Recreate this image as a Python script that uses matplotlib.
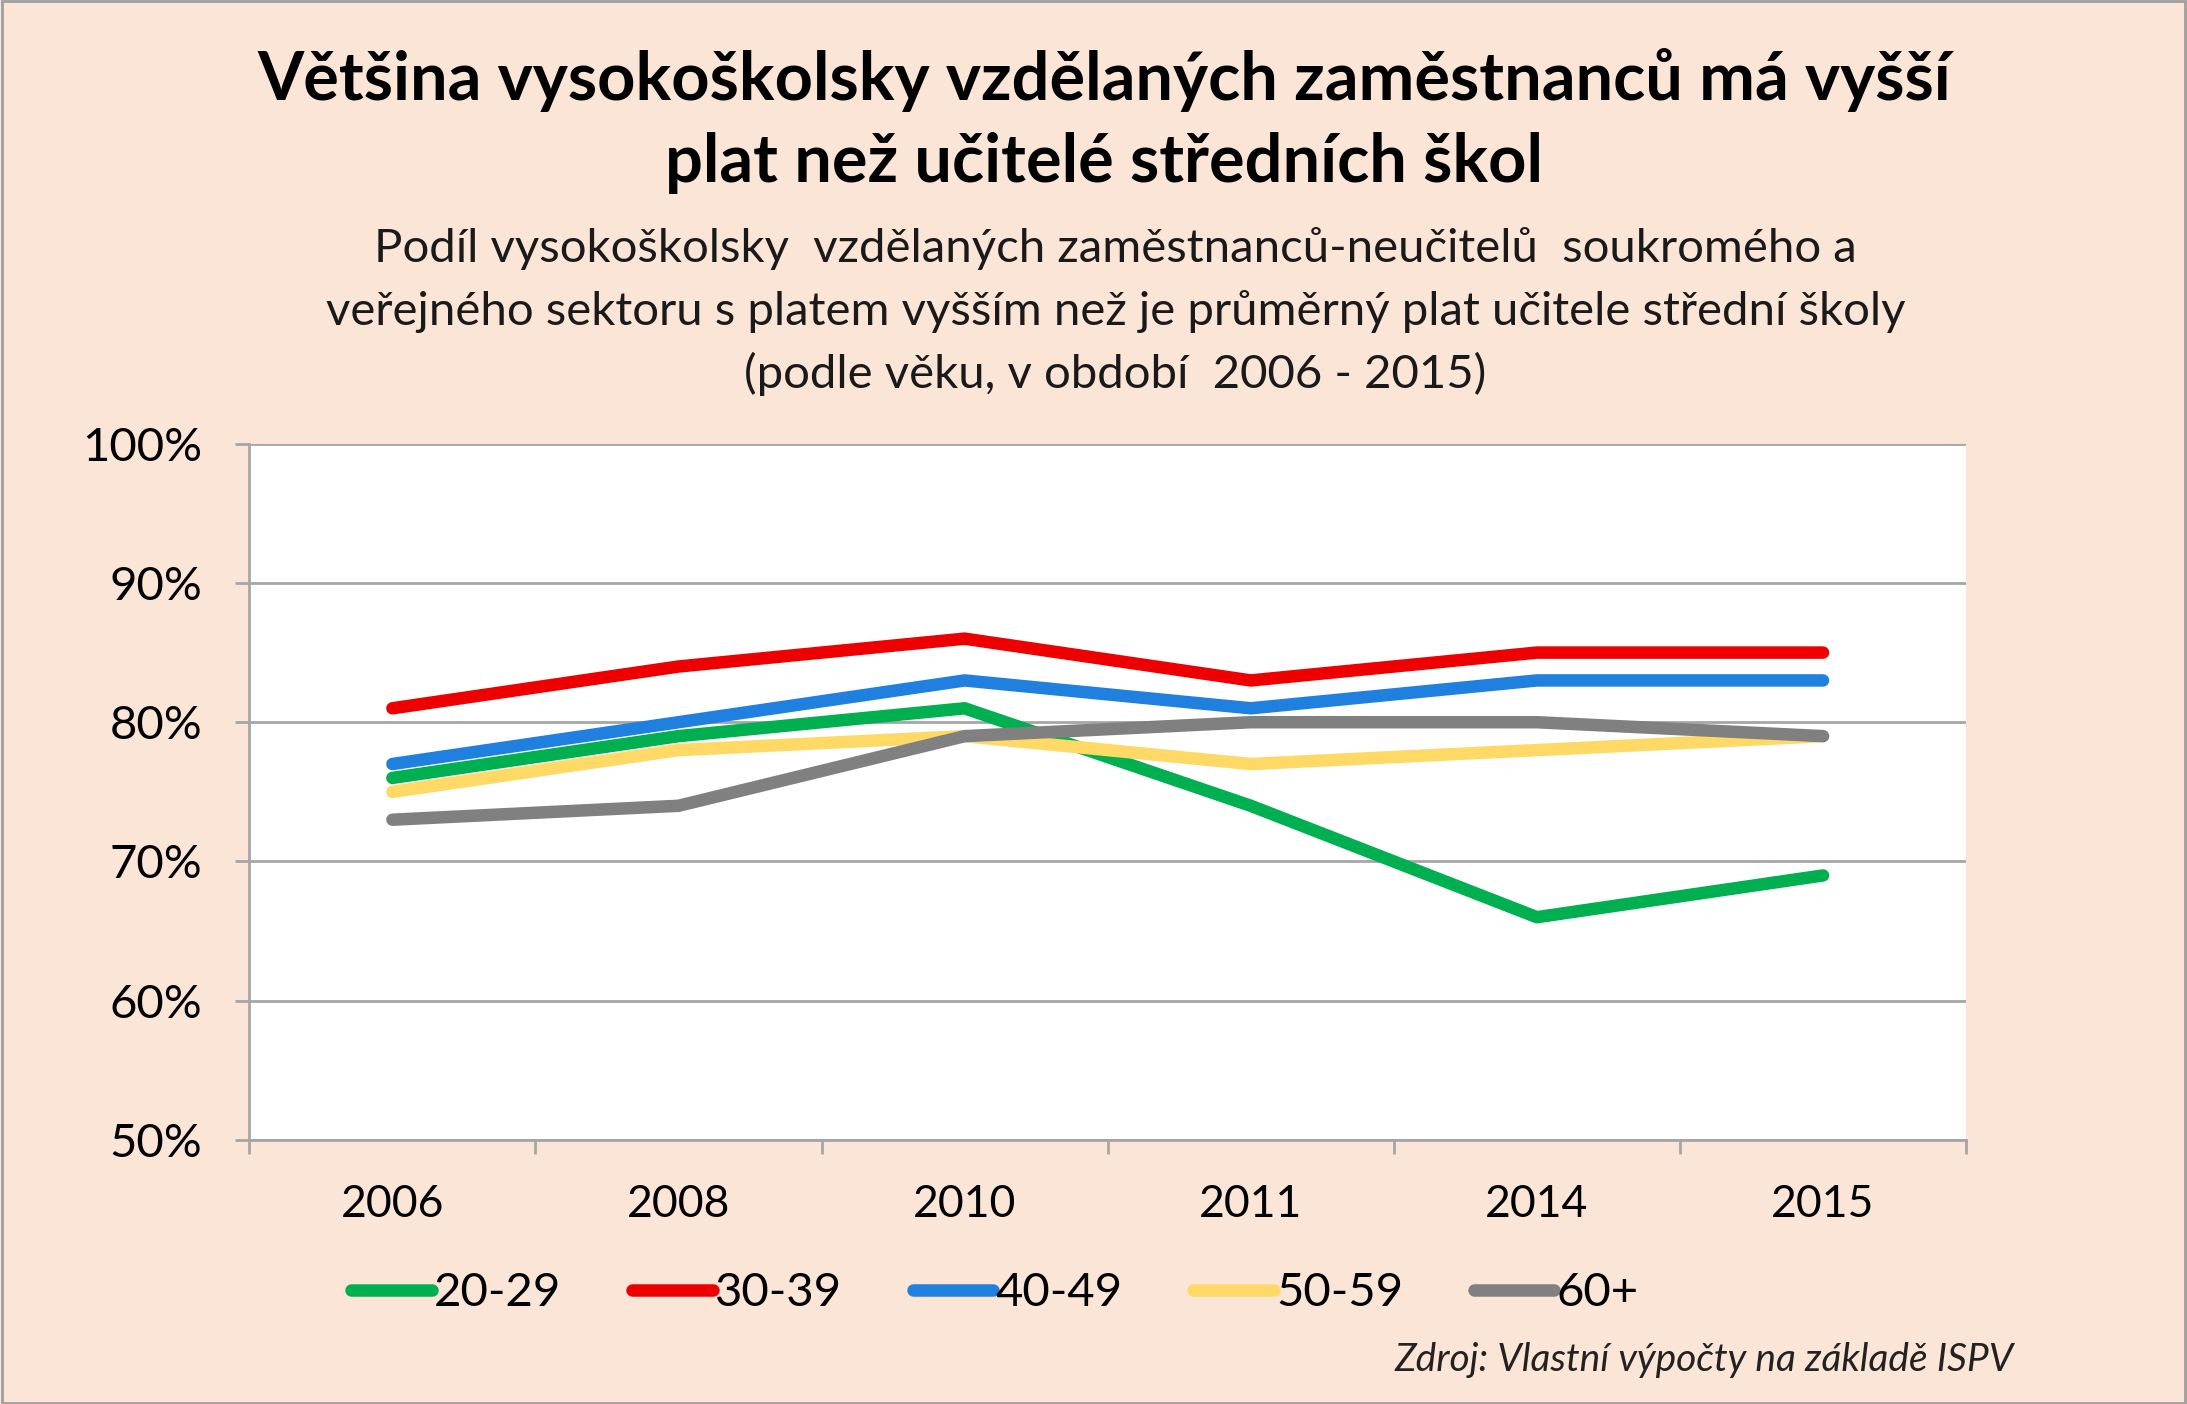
import matplotlib
matplotlib.use('Agg')
import matplotlib.pyplot as plt
import numpy as np

roky = ['2006', '2008', '2010', '2011', '2014', '2015']
vek_20_29 = [76, 79, 81, 74, 66, 69]
vek_30_39 = [81, 84, 86, 83, 85, 85]
vek_40_49 = [77, 80, 83, 81, 83, 83]
vek_50_59 = [75, 78, 79, 77, 78, 79]
vek_60 = [73, 74, 79, 80, 80, 79]
skupiny = ['20-29', '30-39', '40-49', '50-59', '60+']
barvy = ['#00B050', '#EE0000', '#1F80E0', '#FFD966', '#808080']

plt.rcParams['font.family'] = ['Lato', 'DejaVu Sans']

fig = plt.figure(figsize=(21.87, 14.04), dpi=100, facecolor='#FBE5D6')
fig.patches.append(plt.Rectangle((0.001, 0.001), 0.998, 0.998, transform=fig.transFigure,
                                 fill=False, edgecolor='#A0A0A0', lw=2))
ax = fig.add_axes([0.114, 0.188, 0.785, 0.496])
ax.set_facecolor('white')

x = np.arange(len(roky))
for hodnoty, barva, nazev in zip([vek_20_29, vek_30_39, vek_40_49, vek_50_59, vek_60], barvy, skupiny):
    ax.plot(x, hodnoty, color=barva, lw=9, label=nazev, solid_capstyle='round', solid_joinstyle='round')

ax.set_xlim(-0.5, 5.5)
ax.set_ylim(50, 100)
ax.set_yticks(range(50, 101, 10))
ax.set_yticklabels([f'{v}%' for v in range(50, 101, 10)], fontsize=34)
ax.yaxis.grid(True, color='#A6A6A6', lw=2)
ax.set_axisbelow(True)
ax.set_xticks(x)
ax.set_xticklabels(roky, fontsize=32)
ax.set_xticks(np.arange(-0.5, 6, 1), minor=True)
ax.tick_params(axis='x', which='major', length=0, pad=32)
ax.tick_params(axis='x', which='minor', length=10, color='#A6A6A6', width=2)
ax.tick_params(axis='y', length=10, color='#A6A6A6', width=2, pad=24)
for s in ['top', 'right']:
    ax.spines[s].set_visible(False)
for s in ['left', 'bottom']:
    ax.spines[s].set_color('#A6A6A6')
    ax.spines[s].set_linewidth(2)

fig.text(0.505, 0.943, 'Většina vysokoškolsky vzdělaných zaměstnanců má vyšší',
         ha='center', va='center', fontsize=48, fontweight='bold')
fig.text(0.505, 0.884, 'plat než učitelé středních škol',
         ha='center', va='center', fontsize=48, fontweight='bold')
fig.text(0.51, 0.823, 'Podíl vysokoškolsky  vzdělaných zaměstnanců-neučitelů  soukromého a',
         ha='center', va='center', fontsize=34, color='#1A1A1A')
fig.text(0.51, 0.778, 'veřejného sektoru s platem vyšším než je průměrný plat učitele střední školy',
         ha='center', va='center', fontsize=34, color='#1A1A1A')
fig.text(0.51, 0.734, '(podle věku, v období  2006 - 2015)',
         ha='center', va='center', fontsize=34, color='#1A1A1A')

fig.legend(loc='center', bbox_to_anchor=(0.455, 0.079), ncol=5, frameon=False,
           fontsize=34, handlelength=1.7, handletextpad=0.05, columnspacing=1.5)
fig.text(0.921, 0.031, 'Zdroj: Vlastní výpočty na základě ISPV', ha='right', va='center',
         fontsize=28, style='italic', color='#222222')

fig.savefig('out.png', dpi=100, facecolor=fig.get_facecolor())
